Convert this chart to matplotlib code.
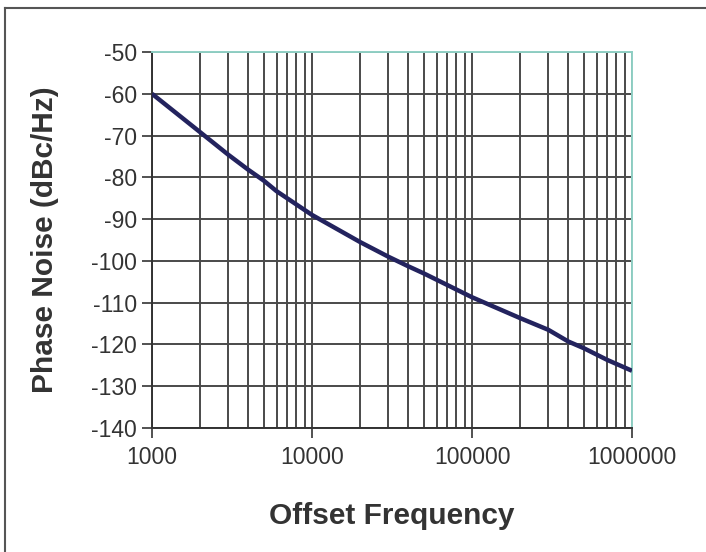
import matplotlib
matplotlib.use("Agg")
import matplotlib.pyplot as plt
from matplotlib.lines import Line2D
from matplotlib.ticker import LogLocator, FixedLocator, NullFormatter

# ==== data
freq = [1000, 2000, 3000, 4000, 5000, 6000, 10000, 20000, 30000, 40000, 50000,
        100000, 200000, 300000, 400000, 500000, 700000, 1000000]
noise = [-60, -69.2, -74.6, -78.2, -80.8, -83.3, -89.0, -95.5, -99.0, -101.3, -103.0,
         -108.7, -113.7, -116.5, -119.3, -120.9, -123.7, -126.3]
y_ticks = list(range(-140, -49, 10))
y_tick_labels = [str(v) for v in y_ticks]
x_ticks = [1000, 10000, 100000, 1000000]
x_tick_labels = ["1000", "10000", "100000", "1000000"]

plt.rcParams['font.family'] = ['Liberation Sans', 'DejaVu Sans']

fig = plt.figure(figsize=(7.06, 5.52), dpi=100)
ax = fig.add_axes([152 / 706, 1 - 428 / 552, 480 / 706, 376 / 552])

ax.plot(freq, noise, color="#23235e", linewidth=3.2, solid_capstyle="butt", zorder=3)

ax.set_xscale("log")
ax.set_xlim(1000, 1000000)
ax.set_ylim(-140, -50)

ax.xaxis.set_major_locator(FixedLocator(x_ticks))
ax.set_xticklabels(x_tick_labels)
ax.xaxis.set_minor_locator(LogLocator(base=10, subs=range(2, 10)))
ax.xaxis.set_minor_formatter(NullFormatter())
ax.set_yticks(y_ticks)
ax.set_yticklabels(y_tick_labels)

grid_col = "#4a4a4a"
ax.grid(True, which="major", color=grid_col, linewidth=1.4)
ax.grid(True, which="minor", axis="x", color=grid_col, linewidth=1.4)
ax.set_axisbelow(True)

ax.tick_params(axis="both", which="major", length=7, width=1.2, color="#333333",
               labelsize=16.5, labelcolor="#333333", pad=4)
ax.tick_params(axis="x", which="minor", length=0)
ax.tick_params(axis="x", which="major", pad=6)

for side in ["left", "bottom"]:
    ax.spines[side].set_color("#333333")
    ax.spines[side].set_linewidth(1.4)
for side in ["top", "right"]:
    ax.spines[side].set_color("#8fcfc4")
    ax.spines[side].set_linewidth(1.4)

ax.set_xlabel("Offset Frequency", fontsize=21.5, fontweight="bold", color="#333333")
ax.set_ylabel("Phase Noise (dBc/Hz)", fontsize=21.5, fontweight="bold", color="#333333")
ax.xaxis.set_label_coords(0.5, (428 - 516) / 376)
ax.xaxis.label.set_va("center")
ax.yaxis.set_label_coords((45 - 152) / 480, 0.5)
ax.yaxis.label.set_va("center")

# outer frame (only top and left visible in reference)
fig.add_artist(Line2D([5 / 706, 5 / 706], [0, 1 - 8 / 552], transform=fig.transFigure,
                      color="#555555", linewidth=1.5))
fig.add_artist(Line2D([5 / 706, 1], [1 - 8 / 552, 1 - 8 / 552], transform=fig.transFigure,
                      color="#555555", linewidth=1.5))

fig.savefig("out.png", dpi=100)
